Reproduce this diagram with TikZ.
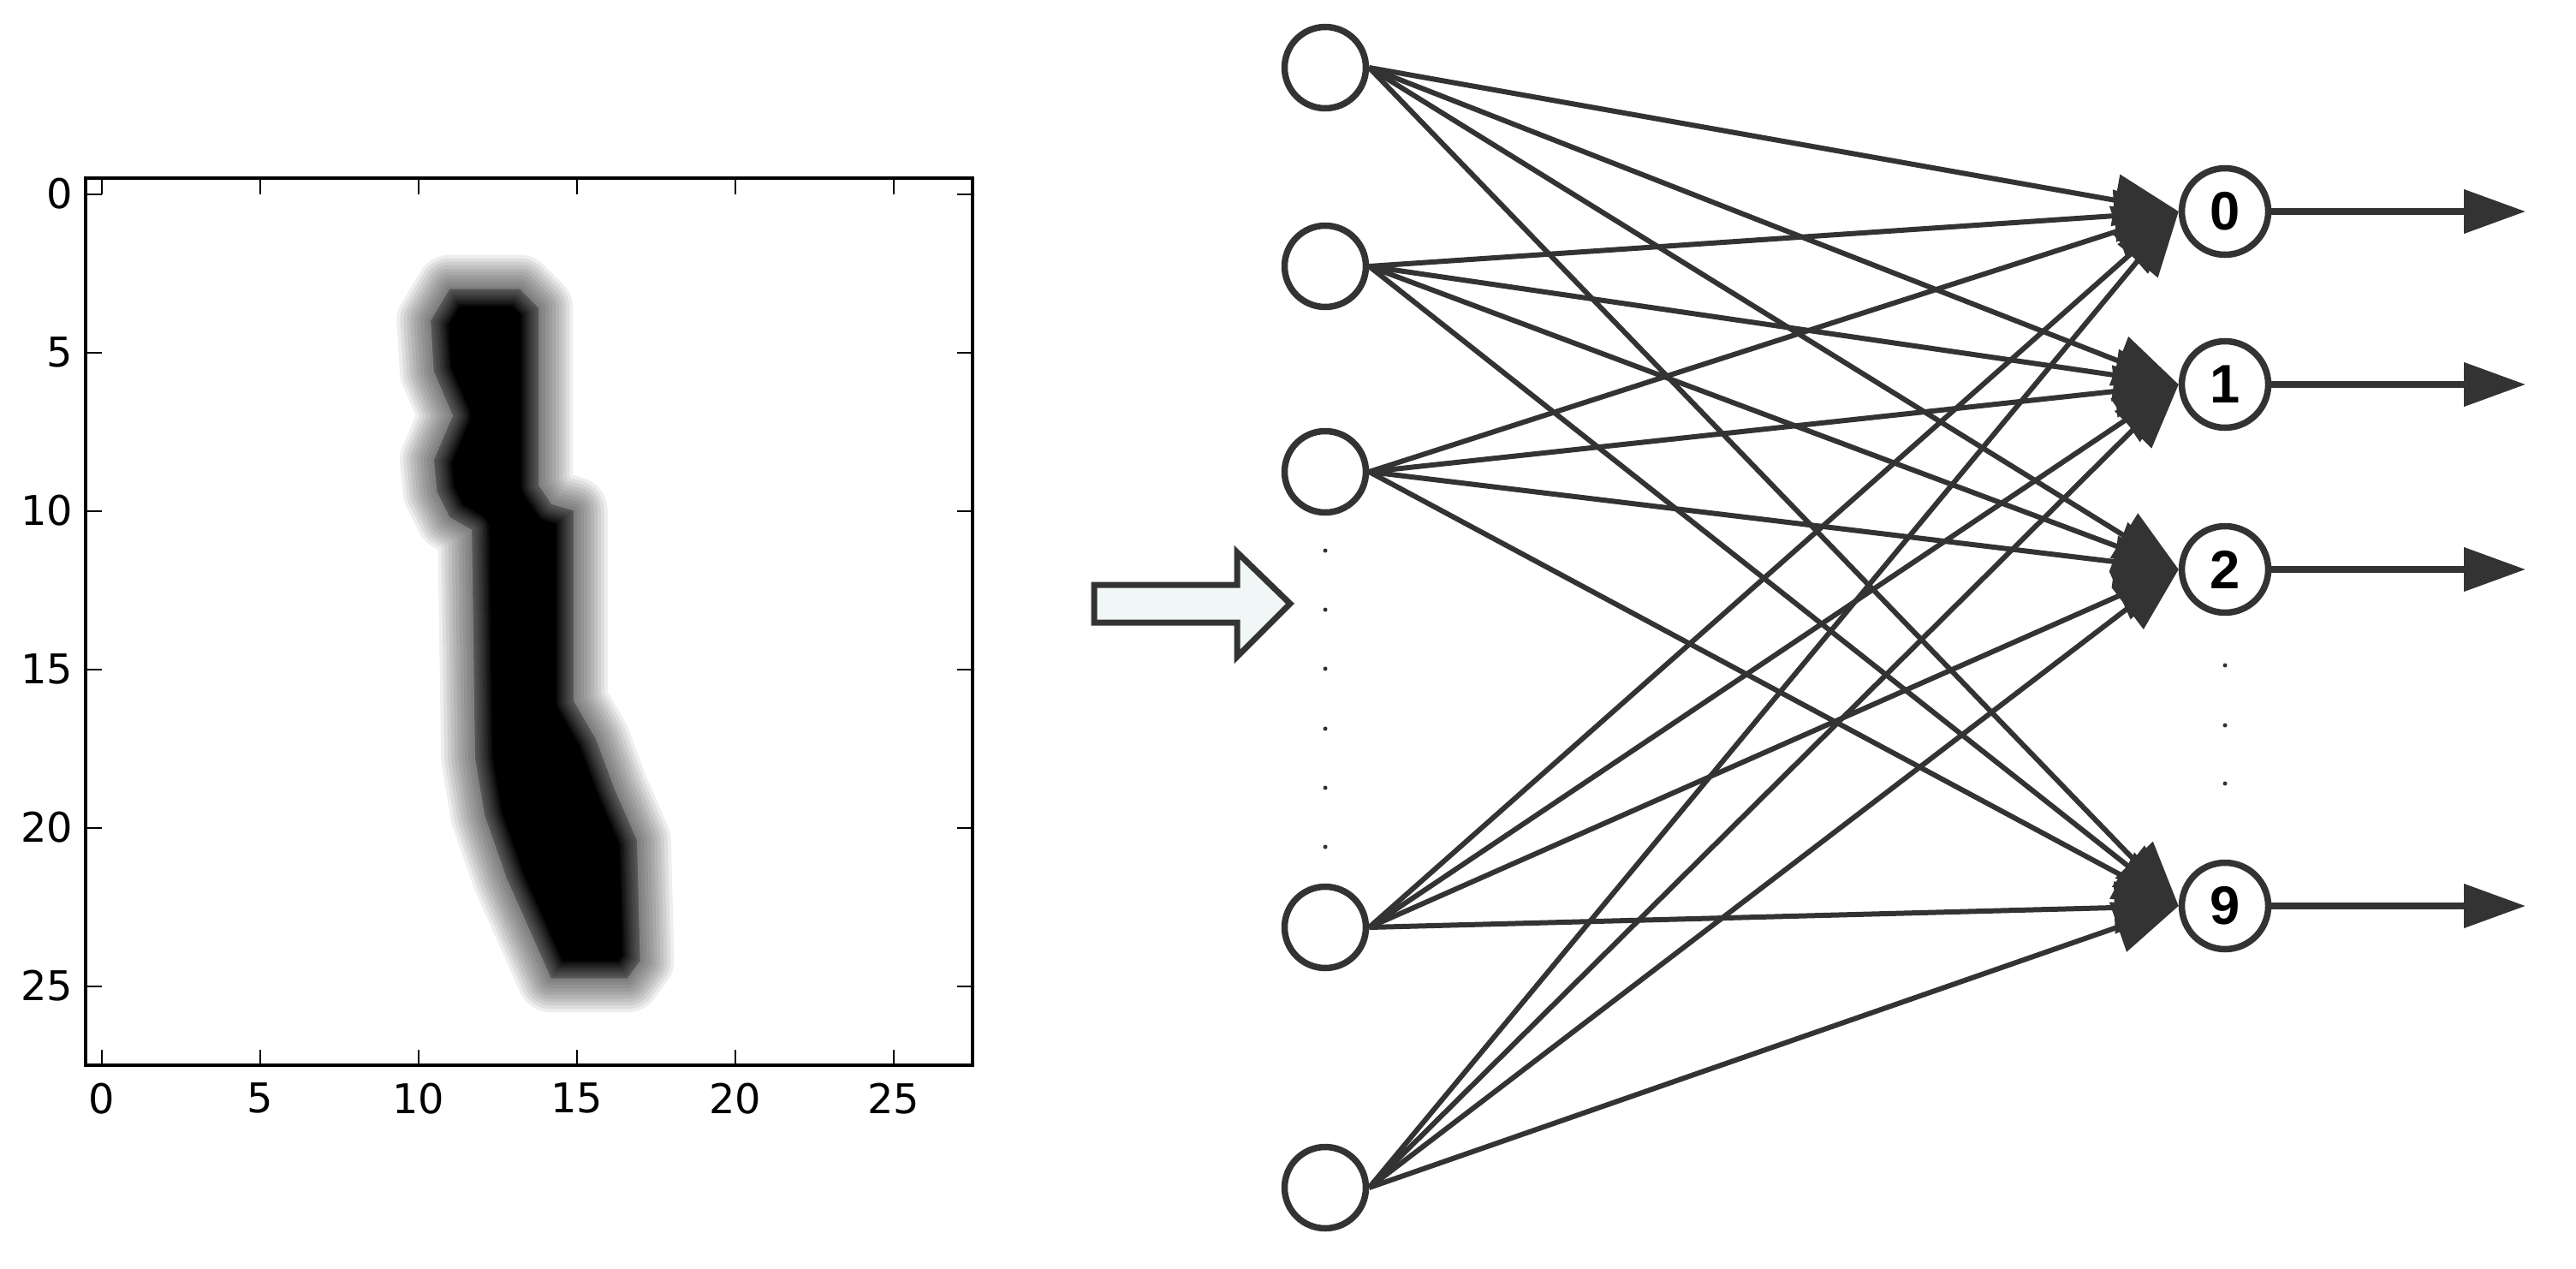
\documentclass[tikz,border=0pt]{standalone}
\usepackage{fontspec}
\usetikzlibrary{arrows.meta}
\newfontfamily\plotfont{DejaVu Sans}
\newfontfamily\netfont{Liberation Sans}
\definecolor{netgray}{RGB}{51,51,51}
\definecolor{arrowfill}{RGB}{240,247,246}
\newcommand{\digitoutline}{(11.0,3.0) -- (13.2,3.0) -- (13.8,3.6) -- (13.8,9.2)
    -- (14.2,9.8) -- (14.9,10.0) -- (14.9,16.0) -- (15.6,17.2) -- (16.2,18.8)
    -- (16.9,20.4) -- (17.0,24.2) -- (16.6,24.75) -- (14.2,24.75) -- (13.6,23.4)
    -- (12.8,21.6) -- (12.1,19.6) -- (11.8,17.8) -- (11.7,10.6) -- (11.0,10.2)
    -- (10.6,9.4) -- (10.5,8.4) -- (11.1,7.0) -- (10.5,5.6) -- (10.4,4.0) -- cycle}

\begin{document}
\begin{tikzpicture}[
    neuron/.style={circle,draw=netgray,line width=0.75mm,fill=white,inner sep=0pt,minimum size=9.5mm},
    outneuron/.style={neuron,minimum size=10.1mm,font=\netfont\fontsize{18pt}{18pt}\selectfont\bfseries},
    synapse/.style={draw=netgray,line width=0.6mm,-{Triangle[length=7.5mm,width=6mm]}},
    result/.style={draw=netgray,line width=0.75mm,-{Triangle[length=7.2mm,width=5mm]}},
    ticklabel/.style={inner sep=0pt,font=\plotfont\fontsize{13.6pt}{13.6pt}\selectfont},
]
\useasboundingbox (0,0) rectangle (30.09,-14.81);

% the 28x28 input image
\begin{scope}[shift={(1.185,-2.265)},x=0.37cm,y=-0.37cm]
\foreach \w in {0.8,1.6,...,8.8}
    \draw[line width=\w mm,line join=round,opacity=0.065] \digitoutline;
\fill \digitoutline;
\begin{scope}
\clip \digitoutline;
\foreach \w in {0.5,1,...,4}
    \draw[white,line width=\w mm,line join=round,opacity=0.05] \digitoutline;
\end{scope}
\foreach \t in {0,5,...,25} {
    \draw[line width=0.2mm] (\t,-0.5) -- (\t,0) (\t,27.5) -- (\t,27)
        (-0.5,\t) -- (0,\t) (27.5,\t) -- (27,\t);
    \node[ticklabel,anchor=north,yshift=-2mm] (xt\t) at (\t,27.5) {\t};
    \node[ticklabel,anchor=east,xshift=-1.4mm] (yt\t) at (-0.5,\t) {\t};
}
\draw[line width=0.35mm] (-0.5,-0.5) rectangle (27.5,27.5);
\end{scope}

\draw[netgray,fill=arrowfill,line width=0.7mm] (12.78,-6.83) -- (14.45,-6.83) -- (14.45,-6.45)
    -- (15.07,-7.05) -- (14.45,-7.67) -- (14.45,-7.27) -- (12.78,-7.27) -- cycle;

\path
    (15.48,-0.79) node [neuron] (in1) {}
    +(0,-2.32) node [neuron] (in2) {}
    +(0,-4.72) node [neuron] (in3) {}
    +(0,-10.04) node [neuron] (in4) {}
    +(0,-13.08) node [neuron] (in5) {};
\path
    (25.99,-2.47) node [outneuron] (out0) {0}
    +(0,-2.02) node [outneuron] (out1) {1}
    +(0,-4.18) node [outneuron] (out2) {2}
    +(0,-8.11) node [outneuron] (out9) {9};
\coordinate (edge) at (29.50,0);

\foreach \y in {6.43,7.12,7.81,8.51,9.20,9.89}
    \fill[netgray] (15.48,-\y) circle (0.25mm);
\foreach \y in {7.77,8.47,9.15}
    \fill[netgray] (25.99,-\y) circle (0.25mm);

\foreach \i in {1,...,5}
    \foreach \o in {0,1,2,9}
        \draw[synapse] (in\i.east) -- (out\o.west);
\foreach \o in {0,1,2,9}
    \draw[result] (out\o.east) -- (out\o -| edge);
\end{tikzpicture}
\end{document}
